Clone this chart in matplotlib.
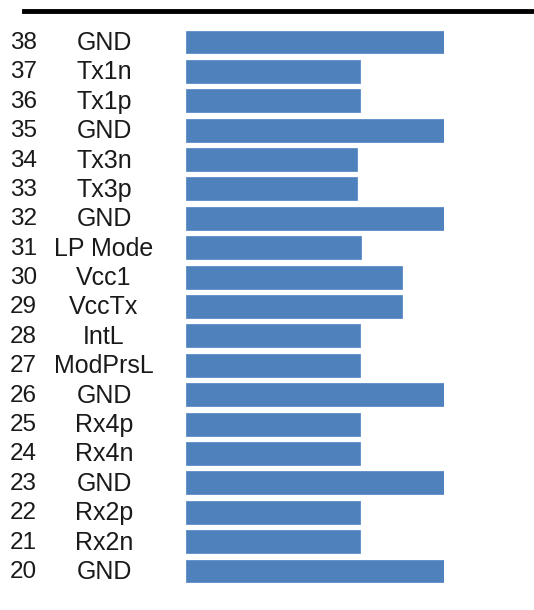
import matplotlib
matplotlib.use("Agg")
import matplotlib.pyplot as plt

pins = [38, 37, 36, 35, 34, 33, 32, 31, 30, 29, 28, 27, 26, 25, 24, 23, 22, 21, 20]
names = ["GND", "Tx1n", "Tx1p", "GND", "Tx3n", "Tx3p", "GND", "LP Mode", "Vcc1", "VccTx",
         "IntL", "ModPrsL", "GND", "Rx4p", "Rx4n", "GND", "Rx2p", "Rx2n", "GND"]
values = [258, 174, 174, 258, 171, 171, 258, 175, 216, 216,
          174, 174, 258, 174, 174, 258, 174, 174, 258]

W, H = 534, 610
fig = plt.figure(figsize=(W / 100, H / 100), dpi=100)
plt.rcParams['font.family'] = ['Liberation Sans', 'DejaVu Sans']

ax_left, ax_right = 186, 444
row_top, row_bot = 42, 571
n = len(pins)
sp = (row_bot - row_top) / (n - 1)
top_px = row_top - sp / 2
bot_px = row_bot + sp / 2
ax = fig.add_axes([ax_left / W, 1 - bot_px / H, (ax_right - ax_left) / W, (bot_px - top_px) / H])
ys = list(range(n))
ax.barh(ys, values, height=0.78, color='#4F81BD', edgecolor='#5B8CC8', linewidth=0.6)
ax.set_xlim(0, 258)
ax.set_ylim(n - 0.5, -0.5)
ax.axis('off')

for i, (p, nm) in enumerate(zip(pins, names)):
    yf = 1 - (row_top + 1 + i * sp) / H
    fig.text(10 / W, yf, str(p), ha='left', va='center', fontsize=17.5, color='#1a1a1a')
    fig.text(104 / W, yf, nm, ha='center', va='center', fontsize=18, color='#1a1a1a')

fig.add_artist(plt.Line2D([24 / W, 1.0], [1 - 11 / H, 1 - 11 / H], color='black', linewidth=3.5))

fig.savefig('out.png', dpi=100, facecolor='white')
